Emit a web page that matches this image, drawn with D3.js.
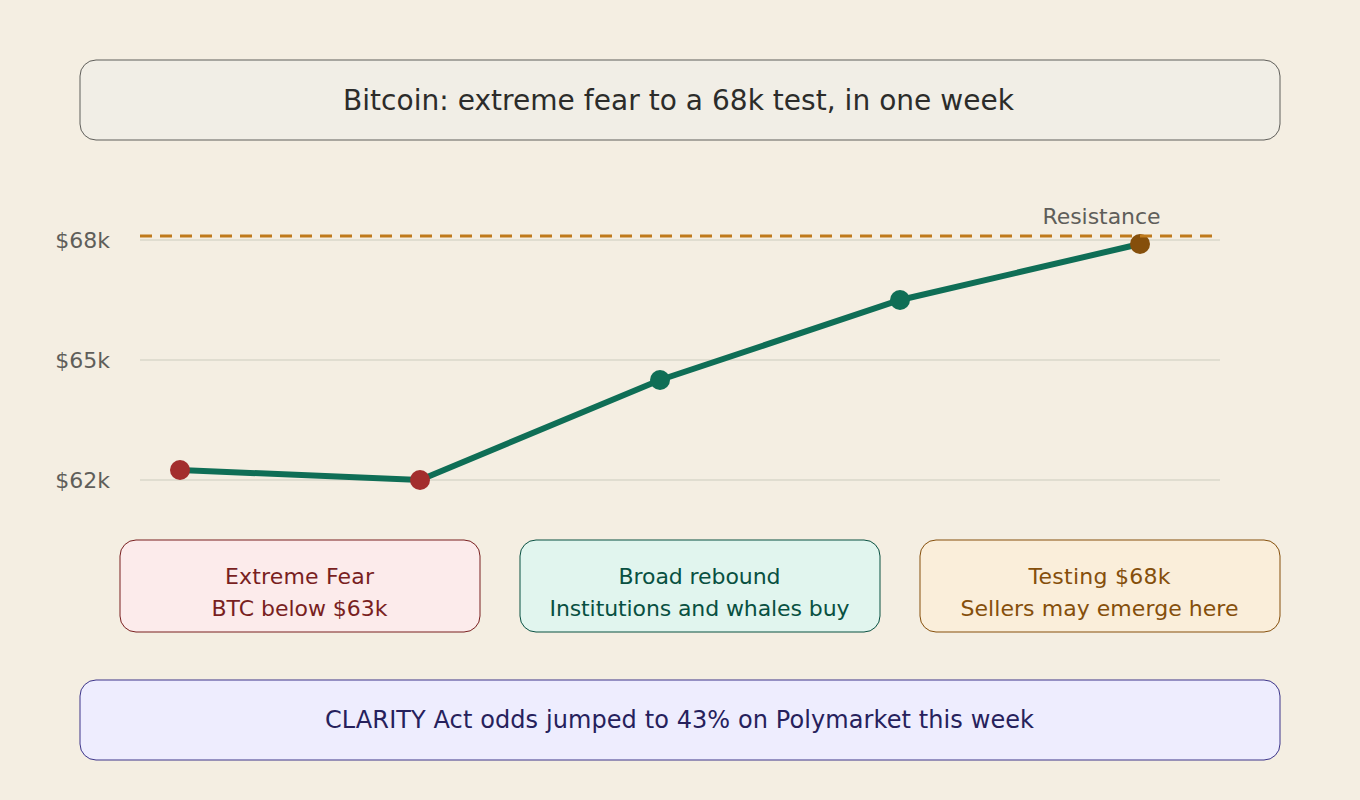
<!DOCTYPE html>
<html>
<head>
<meta charset="utf-8">
<script src="https://cdn.jsdelivr.net/npm/d3@7"></script>
<style>
  html, body { margin: 0; padding: 0; background: #f4eee2; }
  svg { display: block; }
  text { font-family: "DejaVu Sans", sans-serif; }
</style>
</head>
<body>
<svg id="chart" width="1360" height="800"></svg>
<script>
// values, in $k
const days = ['d1', 'd2', 'd3', 'd4', 'd5'];
const prices = [62.25, 62, 64.5, 66.5, 67.9];
const dotColors = ['#a32d2d', '#a32d2d', '#0f6e56', '#0f6e56', '#854f0b'];
const yTicks = [62, 65, 68];
const resistance = 68.1;
const titleText = 'Bitcoin: extreme fear to a 68k test, in one week';
const footerText = 'CLARITY Act odds jumped to 43% on Polymarket this week';
const resistanceLabel = 'Resistance';
const cardLines = [
  ['Extreme Fear', 'BTC below $63k'],
  ['Broad rebound', 'Institutions and whales buy'],
  ['Testing $68k', 'Sellers may emerge here']
];
// measured text widths, the hinted advances of the picture differ a little
const cardWidths = [[149, 176], [162, 300], [142, 278]];
const cardFills = ['#fcebeb', '#e1f5ee', '#faeeda'];
const cardStrokes = ['#791f1f', '#085041', '#854f0b'];
const cardInk = ['#791f1f', '#085041', '#854f0b'];

const svg = d3.select('#chart');

const x = d3.scalePoint().domain(days).range([180, 1140]);
const y = d3.scaleLinear().domain([62, 68]).range([480, 240]);

function box(xPos, yPos, w, h, fill, stroke) {
  svg.append('rect')
    .attr('x', xPos).attr('y', yPos)
    .attr('width', w).attr('height', h)
    .attr('rx', 16).attr('ry', 16)
    .attr('fill', fill)
    .attr('stroke', stroke)
    .attr('stroke-width', 1);
}

function label(xPos, yPos, str, size, color, width) {
  svg.append('text')
    .attr('x', xPos).attr('y', yPos)
    .attr('text-anchor', 'middle')
    .attr('dominant-baseline', 'central')
    .attr('font-size', size)
    .attr('fill', color)
    .attr('textLength', width)
    .attr('lengthAdjust', 'spacing')
    .text(str);
}

// title
box(80, 60, 1200, 80, '#f1eee6', '#5f5e5a');
label(678.5, 100, titleText, 28, '#2c2c2a', 671);

// y axis, only the labels and the grid lines are visible
const axis = svg.append('g')
  .attr('transform', 'translate(140,0)')
  .call(d3.axisLeft(y).tickValues(yTicks).tickSize(0).tickPadding(30).tickFormat(d => '$' + d + 'k'));
axis.select('.domain').remove();
axis.selectAll('text')
  .attr('font-size', 22)
  .attr('font-family', '"DejaVu Sans", sans-serif')
  .attr('fill', '#5f5e5a');

svg.append('g').selectAll('line')
  .data(yTicks)
  .join('line')
  .attr('x1', 140).attr('x2', 1220)
  .attr('y1', d => y(d)).attr('y2', d => y(d))
  .attr('stroke', '#e0ddd0')
  .attr('stroke-width', 2);

label(1101.5, 216, resistanceLabel, 22, '#5f5e5a', 118);

// price line
const line = d3.line()
  .x((d, i) => x(days[i]))
  .y(d => y(d));
svg.append('path')
  .datum(prices)
  .attr('d', line)
  .attr('fill', 'none')
  .attr('stroke', '#0f6e56')
  .attr('stroke-width', 6);

svg.append('g').selectAll('circle')
  .data(prices)
  .join('circle')
  .attr('cx', (d, i) => x(days[i]))
  .attr('cy', d => y(d))
  .attr('r', 10)
  .attr('fill', (d, i) => dotColors[i]);

// resistance goes over the last dot
svg.append('line')
  .attr('x1', 140).attr('x2', 1220)
  .attr('y1', y(resistance)).attr('y2', y(resistance))
  .attr('stroke', '#bf7a1c')
  .attr('stroke-width', 3)
  .attr('stroke-dasharray', '12 8');

// the three cards
cardLines.forEach((lines, i) => {
  const left = 120 + i * 400;
  box(left, 540, 360, 92, cardFills[i], cardStrokes[i]);
  label(left + 179.5, 576, lines[0], 22, cardInk[i], cardWidths[i][0]);
  label(left + 179.5, 608, lines[1], 22, cardInk[i], cardWidths[i][1]);
});

// footer
box(80, 680, 1200, 80, '#eeedfe', '#3c3489');
label(679.5, 720, footerText, 24, '#26215c', 709);
</script>
</body>
</html>
